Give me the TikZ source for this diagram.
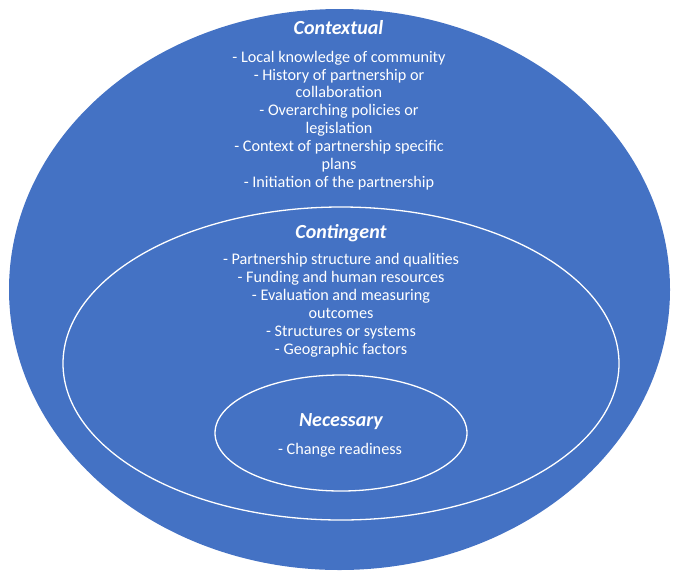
\documentclass[tikz,border=0pt]{standalone}
\usepackage{fontspec}
\setmainfont{Carlito}
\definecolor{offblue}{HTML}{4472C4}
\begin{document}
\begin{tikzpicture}[x=1pt,y=-1pt,
  ring/.style={draw=white,line width=1.3pt},
  ttl/.style={text=white,inner sep=0pt,font=\fontsize{20}{22}\selectfont\bfseries\itshape},
  lst/.style={text=white,inner sep=0pt,align=center,font=\fontsize{16.2}{17.9}\selectfont}]
\useasboundingbox (0,0) rectangle (677,582);
\fill[offblue] (339.5,289.5) ellipse [x radius=330.5, y radius=280.5];
\draw[ring] (341,363.5) ellipse [x radius=278, y radius=156.5];
\draw[ring] (341,433) ellipse [x radius=126, y radius=58];
\node[ttl] (t1) at (338.5,28) {Contextual};
\node[lst] (l1) at (339,120.5) {- Local knowledge of community\\- History of partnership or\\collaboration\\- Overarching policies or\\legislation\\- Context of partnership specific\\plans\\- Initiation of the partnership};
\node[ttl] (t2) at (341,233) {Contingent};
\node[lst] (l2) at (341,305.5) {- Partnership structure and qualities\\- Funding and human resources\\- Evaluation and measuring\\outcomes\\- Structures or systems\\- Geographic factors};
\node[ttl] (t3) at (341,421.5) {Necessary};
\node[lst] (l3) at (340,450) {- Change readiness};
\end{tikzpicture}
\end{document}
